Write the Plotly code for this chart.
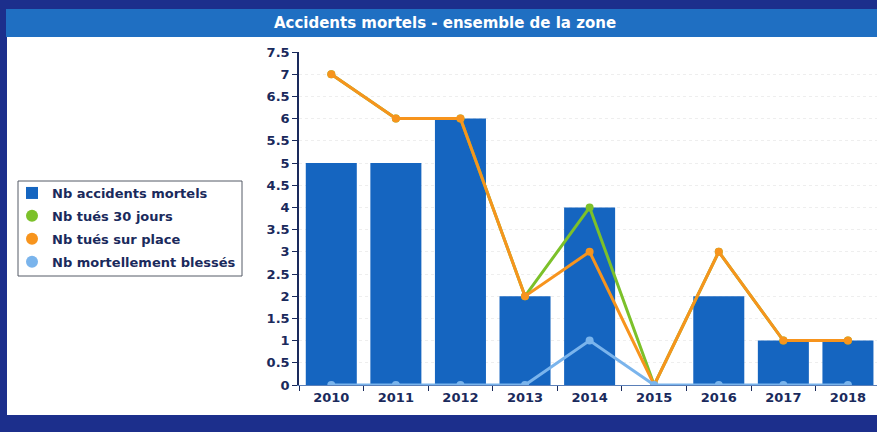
import plotly.graph_objects as go

years = ["2010", "2011", "2012", "2013", "2014", "2015", "2016", "2017", "2018"]
accidents = [5, 5, 6, 2, 4, 0, 2, 1, 1]
tues_30j = [7, 6, 6, 2, 4, 0, 3, 1, 1]
tues_place = [7, 6, 6, 2, 3, 0, 3, 1, 1]
mort_blesses = [0, 0, 0, 0, 1, 0, 0, 0, 0]
y_ticks = [0, 0.5, 1, 1.5, 2, 2.5, 3, 3.5, 4, 4.5, 5, 5.5, 6, 6.5, 7, 7.5]
y_labels = ["0", "0.5", "1", "1.5", "2", "2.5", "3", "3.5", "4", "4.5", "5", "5.5", "6", "6.5", "7", "7.5"]

W, H = 877, 432
L, R, T, B = 299, 0, 52, 47
pw, ph = W - L - R, H - T - B

def px(x):
    return (x - L) / pw

def py(y):
    return (H - B - y) / ph

navy = "#1a2a5c"
c_bar, c_green, c_orange, c_light = "#1565c0", "#7cc12a", "#f7941d", "#7ab4ec"

fig = go.Figure()
fig.add_trace(go.Bar(x=years, y=accidents, name="Nb accidents mortels", legendgroup="a",
                     marker=dict(color=c_bar, line=dict(width=0)), width=0.79))
series = [("Nb tués 30 jours", tues_30j, c_green, "b"),
          ("Nb tués sur place", tues_place, c_orange, "c"),
          ("Nb mortellement blessés", mort_blesses, c_light, "d")]
for name, vals, col, grp in series:
    fig.add_trace(go.Scatter(x=years, y=vals, name=name, mode="lines+markers", showlegend=False,
                             legendgroup=grp, line=dict(color=col, width=3),
                             marker=dict(size=8, color=col)))
for name, vals, col, grp in series:
    fig.add_trace(go.Scatter(x=[None], y=[None], name=name, mode="markers", legendgroup=grp,
                             marker=dict(size=9, color=col)))

shapes = [
    dict(type="rect", xref="paper", yref="paper", x0=px(7), x1=px(W + 5), y0=py(415), y1=py(37),
         fillcolor="white", line=dict(width=0), layer="below"),
    dict(type="rect", xref="paper", yref="paper", x0=px(6), x1=px(W + 5), y0=py(37), y1=py(9),
         fillcolor="#1f6fc2", line=dict(width=0), layer="below"),
    dict(type="rect", xref="paper", yref="paper", x0=px(18), x1=px(242), y0=py(276), y1=py(181),
         fillcolor="white", line=dict(width=1, color="#555a66"), layer="below"),
]

fig.update_layout(
    width=W, height=H,
    margin=dict(l=L, r=R, t=T, b=B),
    paper_bgcolor="#1c2f8c",
    plot_bgcolor="rgba(0,0,0,0)",
    shapes=shapes,
    showlegend=True,
    legend=dict(x=px(12), y=py(178), xanchor="left", yanchor="top",
                bgcolor="rgba(0,0,0,0)", borderwidth=0,
                font=dict(family="DejaVu Sans", size=13, color=navy, weight="bold"),
                tracegroupgap=3, itemsizing="constant", traceorder="grouped"),
    title=dict(text="Accidents mortels - ensemble de la zone", xref="container", x=445 / W,
               xanchor="center", yref="container", y=1 - 23 / H, yanchor="middle",
               font=dict(family="DejaVu Sans", size=15, color="white", weight="bold")),
    bargap=0.21,
    xaxis=dict(range=[-0.5, 8.45], showgrid=False, showline=True, linecolor="#5a7fb8", linewidth=1,
               ticks="outside", ticklen=5, tickcolor=navy, tickson="boundaries",
               tickfont=dict(family="DejaVu Sans", size=13, color=navy, weight="bold"),
               fixedrange=True, zeroline=False),
    yaxis=dict(range=[0, 7.5], tickvals=y_ticks, ticktext=y_labels,
               showgrid=True, gridcolor="#eeeeee", griddash="dot", gridwidth=1,
               showline=True, linecolor=navy, linewidth=1.5,
               ticks="outside", ticklen=5, tickcolor=navy,
               tickfont=dict(family="DejaVu Sans", size=13, color=navy, weight="bold"),
               zeroline=False, fixedrange=True),
)

fig.write_html("out.html", config={"displayModeBar": False},
               post_script="document.body.style.margin='0';document.body.style.overflow='hidden';")
